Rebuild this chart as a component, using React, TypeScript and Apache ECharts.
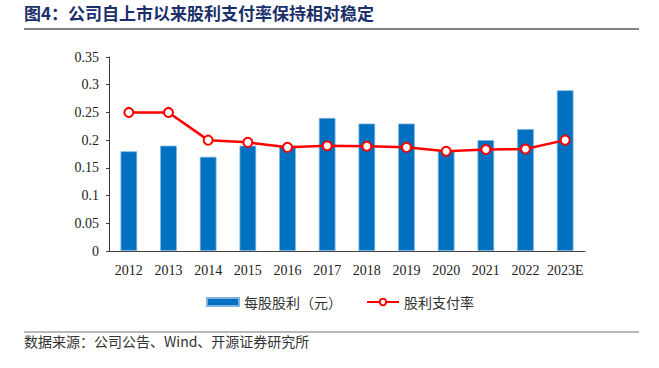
import React, { useEffect, useRef } from "react";
import * as echarts from "echarts";

const categories = ["2012", "2013", "2014", "2015", "2016", "2017", "2018", "2019", "2020", "2021", "2022", "2023E"];
const dpsValues = [0.18, 0.19, 0.17, 0.19, 0.19, 0.24, 0.23, 0.23, 0.18, 0.2, 0.22, 0.29];
const payoutValues = [0.25, 0.25, 0.2, 0.196, 0.187, 0.19, 0.189, 0.187, 0.18, 0.183, 0.184, 0.2];
const yTicks = { min: 0, max: 0.35, interval: 0.05 };

const titleText = "图4：公司自上市以来股利支付率保持相对稳定";
const sourceText = "数据来源：公司公告、Wind、开源证券研究所";
const barName = "每股股利（元）";
const lineName = "股利支付率";

export default function App() {
  const ref = useRef<HTMLDivElement>(null);
  useEffect(() => {
    if (!ref.current) return;
    const chart = echarts.init(ref.current, null, { renderer: "svg" });
    const serif = "'Liberation Serif', 'Times New Roman', serif";
    const cjk = "'Noto Sans CJK SC', sans-serif";
    chart.setOption({
      animation: false,
      backgroundColor: "#fff",
      grid: { left: 109, right: 74, top: 57, bottom: 117 },
      legend: {
        top: 290,
        left: 201,
        itemGap: 24,
        itemWidth: 32,
        itemHeight: 8,
        textStyle: { fontFamily: cjk, fontSize: 14, color: "#333" },
        data: [
          { name: barName, icon: "rect" },
          { name: lineName },
        ],
      },
      xAxis: {
        type: "category",
        data: categories,
        axisLine: { lineStyle: { color: "#404040", width: 1 } },
        axisTick: { inside: true, length: 4, lineStyle: { color: "#404040" } },
        axisLabel: { fontFamily: serif, fontSize: 14, color: "#222", margin: 12, interval: 0 },
      },
      yAxis: {
        type: "value",
        min: yTicks.min,
        max: yTicks.max,
        interval: yTicks.interval,
        splitLine: { show: false },
        axisLine: { show: true, lineStyle: { color: "#404040", width: 1 } },
        axisTick: { show: true, length: 3, lineStyle: { color: "#404040" } },
        axisLabel: {
          fontFamily: serif,
          fontSize: 14,
          color: "#222",
          margin: 10,
          formatter: (v: number) => String(parseFloat(v.toFixed(2))),
        },
      },
      series: [
        {
          name: barName,
          type: "bar",
          data: dpsValues,
          barWidth: "42%",
          itemStyle: { color: "#0070C0", borderColor: "#7FB2DE", borderWidth: 0.8 },
        },
        {
          name: lineName,
          type: "line",
          data: payoutValues,
          symbol: "circle",
          symbolSize: 9,
          lineStyle: { color: "#FF0000", width: 2.5 },
          itemStyle: { color: "#FFFFFF", borderColor: "#FF0000", borderWidth: 2 },
          z: 3,
        },
      ],
      graphic: [
        {
          type: "text",
          left: 24,
          top: 4,
          style: {
            text: titleText,
            fontFamily: cjk,
            fontSize: 17,
            fontWeight: "bold",
            fill: "#1B2F6B",
          },
        },
        {
          type: "line",
          shape: { x1: 24, y1: 29, x2: 639, y2: 29 },
          style: { stroke: "#808080", lineWidth: 2 },
        },
        {
          type: "line",
          shape: { x1: 24, y1: 332, x2: 639, y2: 332 },
          style: { stroke: "#A0A0A0", lineWidth: 1.5 },
        },
        {
          type: "text",
          left: 24,
          top: 334,
          style: {
            text: sourceText,
            fontFamily: cjk,
            fontSize: 14,
            fill: "#333",
          },
        },
      ],
    });
    return () => chart.dispose();
  }, []);
  return <div ref={ref} style={{ width: 659, height: 368, position: "absolute", left: 0, top: 0 }} />;
}
